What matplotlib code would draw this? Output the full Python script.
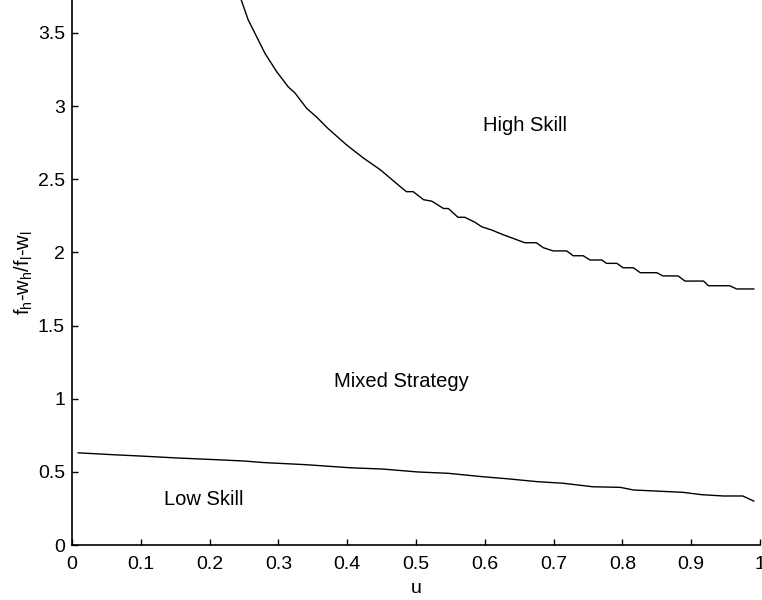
import numpy as np
import matplotlib.pyplot as plt

# upper boundary (high skill / mixed strategy)
u_high = [0.246, 0.256, 0.2635, 0.2805, 0.2975, 0.3145, 0.324, 0.341, 0.3555, 0.3725,
          0.399, 0.4235, 0.448, 0.477, 0.486, 0.496, 0.511, 0.523, 0.54, 0.547,
          0.561, 0.571, 0.586, 0.5955, 0.61, 0.627, 0.641, 0.658, 0.675, 0.685,
          0.6995, 0.719, 0.7285, 0.743, 0.753, 0.77, 0.777, 0.792, 0.801, 0.816,
          0.826, 0.85, 0.859, 0.881, 0.891, 0.918, 0.925, 0.956, 0.966, 0.991]
y_high = [3.725, 3.59, 3.52, 3.36, 3.235, 3.13, 3.09, 2.985, 2.925, 2.845,
          2.735, 2.645, 2.565, 2.45, 2.415, 2.415, 2.36, 2.35, 2.30, 2.30,
          2.24, 2.24, 2.205, 2.175, 2.153, 2.12, 2.096, 2.066, 2.066, 2.032,
          2.01, 2.01, 1.977, 1.977, 1.948, 1.948, 1.925, 1.925, 1.895, 1.895,
          1.861, 1.861, 1.839, 1.839, 1.804, 1.804, 1.772, 1.772, 1.75, 1.75]

# lower boundary (mixed strategy / low skill)
u_low = [0.009, 0.06, 0.10, 0.152, 0.21, 0.25, 0.28, 0.34, 0.404, 0.452,
         0.503, 0.547, 0.596, 0.632, 0.676, 0.714, 0.757, 0.797, 0.816, 0.888,
         0.915, 0.947, 0.975, 0.991]
y_low = [0.63, 0.617, 0.608, 0.595, 0.583, 0.574, 0.563, 0.549, 0.528, 0.519,
         0.499, 0.49, 0.467, 0.453, 0.433, 0.422, 0.398, 0.394, 0.376, 0.36,
         0.344, 0.335, 0.335, 0.30]

region_labels = ['High Skill', 'Mixed Strategy', 'Low Skill']
region_x = [0.658, 0.479, 0.192]
region_y = [2.87, 1.12, 0.31]

plt.rcParams['font.family'] = ['Liberation Sans', 'DejaVu Sans']
plt.rcParams['mathtext.fontset'] = 'custom'
plt.rcParams['mathtext.rm'] = 'Liberation Sans'

fig = plt.figure(figsize=(7.62, 6.0), dpi=100)
ax = fig.add_axes([72 / 762, 55 / 600, 688 / 762, 545 / 600])

ax.plot(u_high, y_high, color='black', lw=1.0)
ax.plot(u_low, y_low, color='black', lw=1.0)

for txt, x, y in zip(region_labels, region_x, region_y):
    ax.text(x, y, txt, ha='center', va='center', fontsize=14.5)

ax.set_xlim(0, 1)
ax.set_ylim(0, 3.725)
ax.set_xticks(np.arange(0, 1.01, 0.1))
ax.set_xticklabels(['0', '0.1', '0.2', '0.3', '0.4', '0.5', '0.6', '0.7', '0.8', '0.9', '1'])
ax.set_yticks(np.arange(0, 3.6, 0.5))
ax.set_yticklabels(['0', '0.5', '1', '1.5', '2', '2.5', '3', '3.5'])

ax.spines['top'].set_visible(False)
ax.spines['right'].set_visible(False)
for s in ['left', 'bottom']:
    ax.spines[s].set_linewidth(1.2)
ax.tick_params(direction='in', length=4.5, width=1.0, labelsize=14)
ax.tick_params(axis='x', pad=8)
ax.tick_params(axis='y', pad=5)

ax.set_xlabel('u', fontsize=14)
ax.set_ylabel(r'f$_{\rm h}$-w$_{\rm h}$/f$_{\rm l}$-w$_{\rm l}$', fontsize=14.5)
ax.yaxis.set_label_coords(-0.054, 0.5)
ax.xaxis.set_label_coords(0.5, -0.064)

fig.savefig('out.png', dpi=100)
